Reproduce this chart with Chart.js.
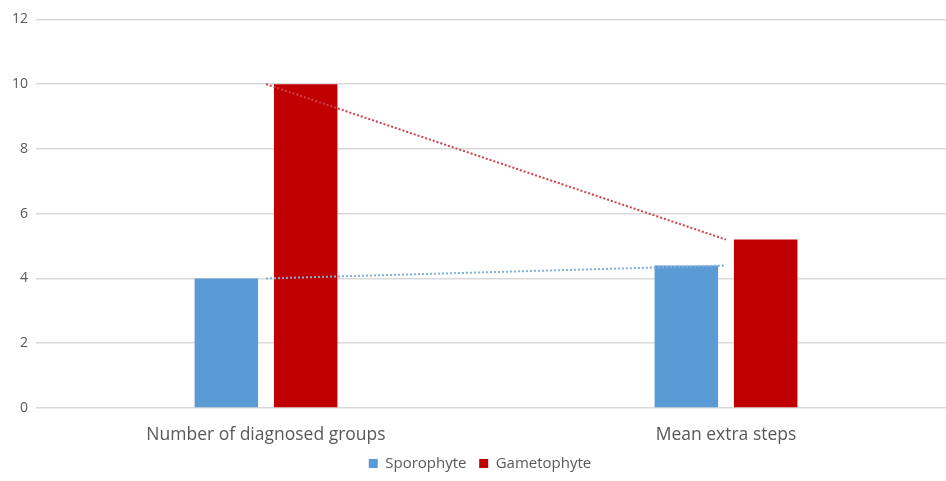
<!DOCTYPE html>
<html>
<head>
<meta charset="utf-8">
<script src="https://cdn.jsdelivr.net/npm/chart.js@4"></script>
<style>
  html, body { margin: 0; padding: 0; background: #fff; overflow: hidden; }
  #wrap { width: 956px; height: 478px; margin-top: 3px; }
</style>
</head>
<body>
<div id="wrap"><canvas id="chart"></canvas></div>
<script>
// data dari gambar
const categories = ['Number of diagnosed groups', 'Mean extra steps'];
const sporophyte = [4, 4.4];
const gametophyte = [10, 5.2];
const yTicks = [0, 2, 4, 6, 8, 10, 12];

const blue = '#5b9bd5';
const red = '#c00000';

new Chart(document.getElementById('chart'), {
  data: {
    labels: categories,
    datasets: [
      {
        type: 'line',
        label: 'trend-s',
        data: sporophyte,
        borderColor: '#7fb0d8',
        borderWidth: 2,
        borderDash: [2, 2],
        pointRadius: 0,
        fill: false,
        order: 0,
      },
      {
        type: 'line',
        label: 'trend-g',
        data: gametophyte,
        borderColor: '#d0404a',
        borderWidth: 2,
        borderDash: [2, 2],
        pointRadius: 0,
        fill: false,
        order: 0,
      },
      {
        type: 'bar',
        label: 'Sporophyte',
        data: sporophyte,
        backgroundColor: blue,
        barPercentage: 0.8,
        categoryPercentage: 0.345,
        order: 1,
      },
      {
        type: 'bar',
        label: 'Gametophyte',
        data: gametophyte,
        backgroundColor: red,
        barPercentage: 0.8,
        categoryPercentage: 0.345,
        order: 1,
      }
    ]
  },
  options: {
    responsive: true,
    maintainAspectRatio: false,
    animation: false,
    layout: { padding: { top: 10, left: 4, right: 0, bottom: 0 } },
    plugins: {
      tooltip: { enabled: false },
      legend: {
        position: 'bottom',
        labels: {
          // hanya batang di legenda, beri jarak antar item
          generateLabels: chart => {
            const items = Chart.defaults.plugins.legend.labels.generateLabels(chart)
              .filter(it => !it.text.startsWith('trend'));
            items.forEach((it, i) => { if (i < items.length - 1) it.text += '   '; });
            return items;
          },
          boxWidth: 9,
          boxHeight: 9,
          padding: 1,
          color: '#595959',
          font: { family: 'Open Sans', size: 15 }
        }
      }
    },
    scales: {
      x: {
        grid: { display: false },
        border: { display: false },
        ticks: {
          color: '#595959',
          padding: 9,
          font: { family: 'Open Sans', size: 17.5 }
        }
      },
      y: {
        min: 0,
        max: 12,
        afterBuildTicks: axis => { axis.ticks = yTicks.map(v => ({ value: v })); },
        grid: { color: '#d9d9d9', lineWidth: 1.5, drawTicks: false },
        border: { display: false },
        ticks: {
          color: '#595959',
          padding: 8,
          font: { family: 'Open Sans', size: 14 }
        }
      }
    }
  }
});
</script>
</body>
</html>
